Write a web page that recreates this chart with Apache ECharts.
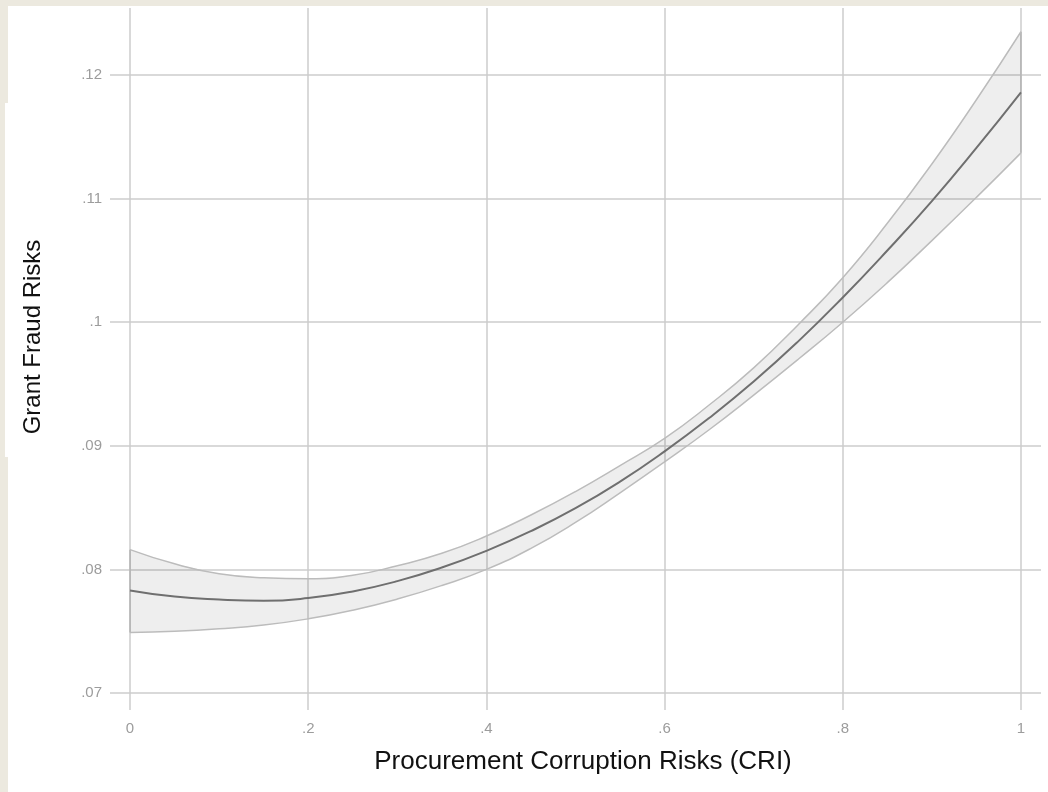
<!DOCTYPE html>
<html>
<head>
<meta charset="utf-8">
<script src="https://cdn.jsdelivr.net/npm/echarts@6/dist/echarts.min.js"></script>
<style>
  html, body { margin: 0; padding: 0; width: 1048px; height: 792px; background: #ece9df; overflow: hidden; }
  #panel { position: absolute; left: 8px; top: 6px; width: 1040px; height: 786px; background: #ffffff; }
  #notch { position: absolute; left: 5px; top: 103px; width: 4px; height: 354px; background: #ffffff; }
  #chart { position: absolute; left: 0; top: 0; width: 1048px; height: 792px; }
</style>
</head>
<body>
<div id="panel"></div>
<div id="notch"></div>
<div id="chart"></div>
<script>
// ---- data ----
const xValues     = [0, 0.05, 0.1, 0.15, 0.2, 0.25, 0.3, 0.35, 0.4, 0.45, 0.5, 0.55, 0.6, 0.65, 0.7, 0.75, 0.8, 0.85, 0.9, 0.95, 1];
const meanValues  = [0.0783, 0.07780, 0.07756, 0.07746, 0.07768, 0.07822, 0.07905, 0.08015, 0.0815, 0.0831, 0.08495, 0.0871, 0.08955, 0.09225, 0.0952, 0.09845, 0.1020, 0.1058, 0.1098, 0.1141, 0.1186];
const upperValues = [0.0816, 0.08045, 0.07965, 0.07932, 0.07924, 0.07952, 0.0803, 0.0813, 0.0827, 0.0844, 0.0863, 0.0884, 0.0906, 0.0933, 0.0963, 0.0998, 0.1036, 0.1080, 0.1128, 0.1180, 0.1235];
const lowerValues = [0.0749, 0.0750, 0.0752, 0.0755, 0.0760, 0.0767, 0.0776, 0.0787, 0.0800, 0.0817, 0.0838, 0.0862, 0.0887, 0.0913, 0.0941, 0.0970, 0.1000, 0.1032, 0.1066, 0.1101, 0.1137];
const xTicks = [0, 0.2, 0.4, 0.6, 0.8, 1];
const yTicks = [0.07, 0.08, 0.09, 0.10, 0.11, 0.12];
const xTitle = 'Procurement Corruption Risks (CRI)';
const yTitle = 'Grant Fraud Risks';

// ---- build ----
const pairs = (ys) => xValues.map((x, i) => [x, ys[i]]);
const bandData = xValues.map((x, i) => [x, lowerValues[i], upperValues[i]]);
const fmt = (v) => {
  const s = String(+v.toFixed(4));
  return s.startsWith('0.') ? s.slice(1) : s;
};
const gridColor = '#cdcdcd';
const edgeColor = '#bcbcbc';
const labelStyle = { color: '#9c9c9c', fontSize: 15, fontFamily: 'Liberation Sans, Arial, sans-serif' };

const chart = echarts.init(document.getElementById('chart'), null, { renderer: 'canvas' });
chart.setOption({
  backgroundColor: 'transparent',
  animation: false,
  grid: { left: 110, right: 7, top: 8, bottom: 82, containLabel: false },
  xAxis: {
    type: 'value',
    min: -0.0225,
    max: 1.0225,
    axisLine: { show: false },
    axisTick: { show: false, customValues: xTicks },
    axisLabel: Object.assign({ customValues: xTicks, margin: 11, formatter: fmt }, labelStyle),
    splitLine: { show: true, lineStyle: { color: gridColor, width: 1.5 } }
  },
  yAxis: {
    type: 'value',
    min: 0.068625,
    max: 0.12542,
    axisLine: { show: false },
    axisTick: { show: false, customValues: yTicks },
    axisLabel: Object.assign({ customValues: yTicks, margin: 8, formatter: fmt }, labelStyle),
    splitLine: { show: true, lineStyle: { color: gridColor, width: 1.5 } }
  },
  graphic: [
    {
      type: 'text', x: 583, y: 762,
      style: { text: xTitle, fill: '#111', font: '26px "Liberation Sans", Arial, sans-serif', textAlign: 'center', textVerticalAlign: 'middle' }
    },
    {
      type: 'text', x: 33, y: 337, rotation: Math.PI / 2,
      style: { text: yTitle, fill: '#111', font: '24px "Liberation Sans", Arial, sans-serif', textAlign: 'center', textVerticalAlign: 'middle' }
    }
  ],
  series: [
    {
      type: 'custom', name: 'ci band', data: bandData,
      encode: { x: 0, y: [1, 2] },
      renderItem: function (params, api) {
        if (params.dataIndex !== 0) return null;
        const n = bandData.length;
        const pts = [];
        for (let i = 0; i < n; i++) pts.push(api.coord([bandData[i][0], bandData[i][2]]));
        for (let i = n - 1; i >= 0; i--) pts.push(api.coord([bandData[i][0], bandData[i][1]]));
        const l0 = api.coord([bandData[0][0], bandData[0][1]]);
        const u0 = api.coord([bandData[0][0], bandData[0][2]]);
        const l1 = api.coord([bandData[n - 1][0], bandData[n - 1][1]]);
        const u1 = api.coord([bandData[n - 1][0], bandData[n - 1][2]]);
        return {
          type: 'group',
          children: [
            { type: 'polygon', shape: { points: pts, smooth: 0 }, style: { fill: 'rgba(0,0,0,0.065)' } },
            { type: 'line', shape: { x1: l0[0], y1: l0[1], x2: u0[0], y2: u0[1] }, style: { stroke: '#b4b4b4', lineWidth: 1.5 } },
            { type: 'line', shape: { x1: l1[0], y1: l1[1], x2: u1[0], y2: u1[1] }, style: { stroke: '#b4b4b4', lineWidth: 1.5 } }
          ]
        };
      },
      z: 1
    },
    {
      type: 'line', name: 'upper', data: pairs(upperValues),
      symbol: 'none', smooth: 0.5,
      lineStyle: { color: edgeColor, width: 1.5 }, z: 2
    },
    {
      type: 'line', name: 'lower', data: pairs(lowerValues),
      symbol: 'none', smooth: 0.5,
      lineStyle: { color: edgeColor, width: 1.5 }, z: 2
    },
    {
      type: 'line', name: 'mean', data: pairs(meanValues),
      symbol: 'none', smooth: 0.5,
      lineStyle: { color: '#6f6f6f', width: 2 }, z: 3
    }
  ]
});
</script>
</body>
</html>
